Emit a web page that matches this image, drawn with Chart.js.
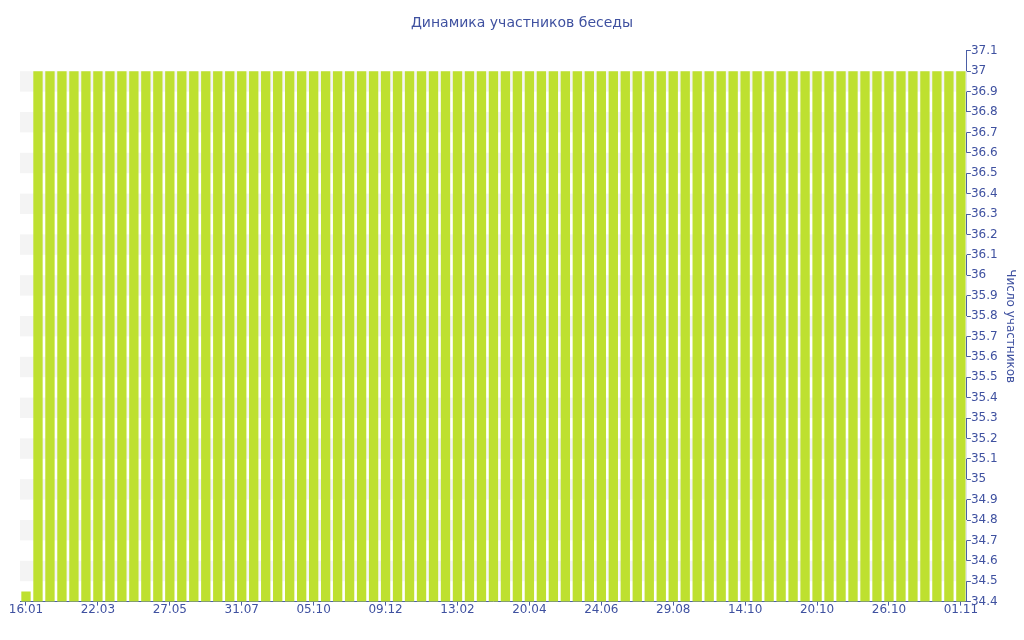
<!DOCTYPE html>
<html>
<head>
<meta charset="utf-8">
<script src="https://cdn.jsdelivr.net/npm/chart.js@4/dist/chart.umd.min.js"></script>
<style>
html,body{margin:0;padding:0;background:#fff;}
#wrap{width:1024px;height:640px;}
</style>
</head>
<body>
<div id="wrap"><canvas id="c" width="1024" height="640"></canvas></div>
<script>
const chartTitle = 'Динамика участников беседы';
const yAxisTitle = 'Число участников';
const tickLabels = ['16.01','22.03','27.05','31.07','05.10','09.12','13.02','20.04','24.06','29.08','14.10','20.10','26.10','01.11'];
const tickEvery = 6;
const memberCounts = [
  34.45, 37, 37, 37, 37, 37, 37, 37, 37, 37,
  37, 37, 37, 37, 37, 37, 37, 37, 37, 37,
  37, 37, 37, 37, 37, 37, 37, 37, 37, 37,
  37, 37, 37, 37, 37, 37, 37, 37, 37, 37,
  37, 37, 37, 37, 37, 37, 37, 37, 37, 37,
  37, 37, 37, 37, 37, 37, 37, 37, 37, 37,
  37, 37, 37, 37, 37, 37, 37, 37, 37, 37,
  37, 37, 37, 37, 37, 37, 37, 37, 37
];
const yMin = 34.4, yMax = 37.1, yStep = 0.1;

const categories = memberCounts.map((v, i) => (i % tickEvery === 0 ? (tickLabels[i / tickEvery] || '') : ''));

const TEXT = '#3f51a0';
const AXIS = '#4b5ea6';
const BAR = '#bee030';
const BAND = '#f4f4f4';
const FONT = "'DejaVu Sans', Verdana, sans-serif";

const bandPlugin = {
  id: 'bands',
  beforeDatasetsDraw(chart) {
    const {ctx, chartArea, scales: {y}} = chart;
    ctx.save();
    ctx.fillStyle = BAND;
    const n = Math.round((yMax - yMin) / yStep);
    for (let k = 0; k < n; k++) {
      const lo = yMin + k * yStep;
      if (k % 2 === 1) {
        const yTop = y.getPixelForValue(lo + yStep);
        const yBot = y.getPixelForValue(lo);
        ctx.fillRect(chartArea.left, yTop, chartArea.right - chartArea.left, yBot - yTop);
      }
    }
    ctx.restore();
  }
};

new Chart(document.getElementById('c'), {
  type: 'bar',
  data: {
    labels: categories,
    datasets: [{
      data: memberCounts,
      backgroundColor: BAR,
      borderWidth: 0,
      barPercentage: 0.78,
      categoryPercentage: 1.0
    }]
  },
  options: {
    responsive: false,
    animation: false,
    devicePixelRatio: 1,
    layout: { padding: { left: 20, right: 0, top: 6, bottom: 26 } },
    plugins: {
      legend: { display: false },
      tooltip: { enabled: false },
      title: {
        display: true,
        text: chartTitle,
        color: TEXT,
        font: { family: FONT, size: 14, weight: 'normal' },
        padding: { top: 9, bottom: 19 }
      }
    },
    scales: {
      x: {
        offset: true,
        grid: { display: true, offset: false, drawOnChartArea: false, drawTicks: true, tickLength: 4, color: AXIS },
        border: { display: true, color: AXIS, width: 1 },
        ticks: {
          autoSkip: false,
          maxRotation: 0,
          color: TEXT,
          padding: -3,
          font: { family: FONT, size: 12 },
          callback: function(v, i) { const l = categories[i]; return l === '' ? null : l; }
        }
      },
      y: {
        position: 'right',
        min: yMin,
        max: yMax,
        grid: { display: true, drawOnChartArea: false, drawTicks: true, tickLength: 4, color: AXIS },
        border: { display: true, color: AXIS, width: 1 },
        ticks: {
          stepSize: yStep,
          maxTicksLimit: 100,
          autoSkip: false,
          color: TEXT,
          padding: 0,
          font: { family: FONT, size: 12 },
          callback: v => String(parseFloat(Number(v).toFixed(1)))
        },
        title: {
          display: true,
          text: yAxisTitle,
          color: TEXT,
          font: { family: FONT, size: 12 },
          padding: { top: 7, bottom: 5 }
        }
      }
    }
  },
  plugins: [bandPlugin]
});
</script>
</body>
</html>
